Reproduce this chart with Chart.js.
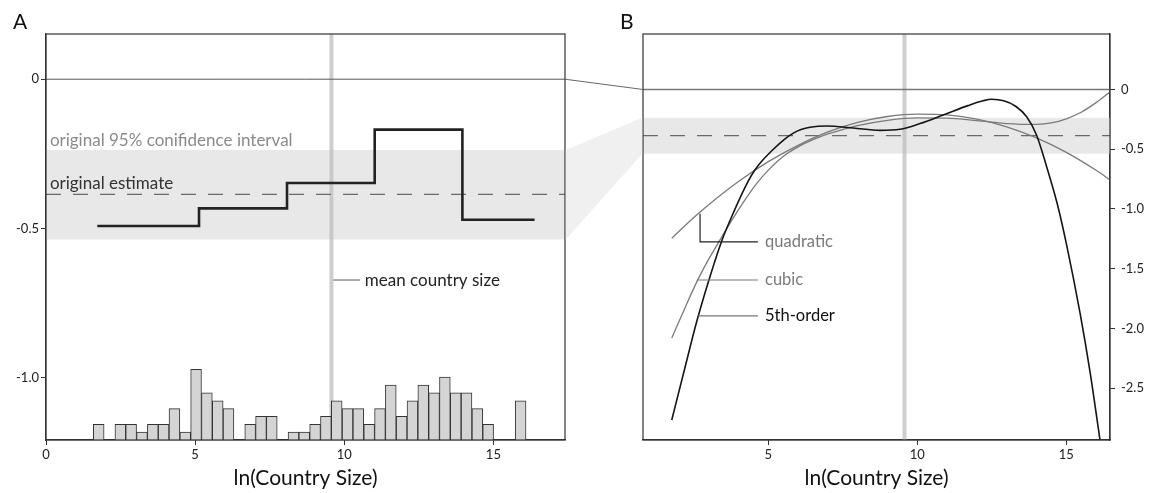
<!DOCTYPE html>
<html><head><meta charset="utf-8">
<script src="https://cdn.jsdelivr.net/npm/chart.js@4.4.1/dist/chart.umd.min.js"></script>
<style>
html,body{margin:0;padding:0;background:#fff;}
#wrap{position:relative;width:1151px;height:493px;overflow:hidden;}
#cA{position:absolute;left:0;top:0;width:600px;height:493px;}
#cB{position:absolute;left:600px;top:0;width:551px;height:493px;}
#ov{position:absolute;left:0;top:0;width:1151px;height:493px;pointer-events:none;}
</style></head><body>
<div id="wrap">
<canvas id="cA" width="600" height="493"></canvas>
<canvas id="cB" width="551" height="493"></canvas>
<canvas id="ov" width="1151" height="493"></canvas>
</div>
<script>
// ---------- data ----------
const binCenters = [1.767,2.130,2.492,2.855,3.218,3.581,3.943,4.306,4.669,5.031,5.394,5.757,6.119,6.482,6.845,7.208,7.570,7.933,8.296,8.658,9.021,9.384,9.746,10.109,10.472,10.835,11.197,11.560,11.923,12.285,12.648,13.011,13.373,13.736,14.099,14.462,14.824,15.187,15.550,15.912];
const binCounts  = [2,0,2,2,1,2,2,4,1,9,6,5,4,0,2,3,3,0,1,1,2,3,5,4,4,2,4,7,3,5,7,6,8,6,6,4,2,0,0,5];

const stepX = [1.72,5.13,8.08,11.02,13.96,16.38];
const stepY = [-0.492,-0.433,-0.348,-0.169,-0.471,-0.471];

const origEstimate = -0.386;
const ciLow = -0.537;
const ciHigh = -0.237;
const meanSize = 9.57;

const quadX = [1.76,2.5,3,4,5,6,7,8,9,10,11,12,13,14,15,16,16.47];
const quadY = [-1.245,-1.072,-0.964,-0.770,-0.604,-0.467,-0.355,-0.275,-0.226,-0.206,-0.213,-0.248,-0.312,-0.405,-0.526,-0.676,-0.757];

const cubicX = [1.76,2.2,2.6,3.0,3.4,3.8,4.2,4.6,5.0,5.5,6.0,6.5,7.0,7.5,8.0,9.0,10.0,11.0,12.0,13.0,14.0,14.5,15.0,15.5,16.0,16.47];
const cubicY = [-2.08,-1.83,-1.61,-1.42,-1.25,-1.085,-0.93,-0.79,-0.675,-0.56,-0.48,-0.42,-0.372,-0.335,-0.302,-0.258,-0.238,-0.24,-0.26,-0.285,-0.292,-0.28,-0.245,-0.19,-0.11,-0.02];

const fifthX = [1.76,2.2,2.6,3.0,3.44,3.83,4.33,4.55,4.8,5.17,5.5,5.84,6.1,6.4,6.96,7.85,8.75,9.42,10.09,10.87,11.7,12.2,12.5,12.9,13.3,13.67,14.0,14.34,14.7,15.01,15.46,15.8,16.13];
const fifthY = [-2.766,-2.33,-1.94,-1.60,-1.265,-1.03,-0.765,-0.674,-0.595,-0.50,-0.425,-0.365,-0.335,-0.316,-0.305,-0.322,-0.342,-0.333,-0.285,-0.213,-0.135,-0.095,-0.082,-0.095,-0.14,-0.228,-0.381,-0.646,-0.96,-1.30,-1.87,-2.37,-2.933];

const xTicksA = [0,5,10,15];
const yTicksA = [0,-0.5,-1.0];
const xTicksB = [5,10,15];
const yTicksB = [0,-0.5,-1.0,-1.5,-2.0,-2.5];

// ---------- helpers ----------
const FONT = "Lato, 'Noto Sans', sans-serif";
Chart.defaults.font.family = FONT;
Chart.defaults.color = '#222';
const pts = (xs, ys) => xs.map((x,i)=>({x, y: ys[i]}));
const fixedTicks = vals => s => { s.ticks = vals.map(v=>({value:v})); };
const fmt = v => v === 0 ? '0' : v.toFixed(1);

function hline(ctx, x1, y1, x2, y2){ ctx.beginPath(); ctx.moveTo(x1,y1); ctx.lineTo(x2,y2); ctx.stroke(); }
function text(ctx, s, x, y, color, size, base){
  ctx.save(); ctx.font = size + 'px ' + FONT; ctx.fillStyle = color;
  ctx.textAlign = 'left'; ctx.textBaseline = base || 'middle'; ctx.fillText(s, x, y); ctx.restore();
}

function refPlugin(zeroColor, zeroWidth, drawTexts){
  return {
    id: 'refs',
    beforeDatasetsDraw(chart){
      const {ctx, chartArea:a, scales} = chart; const x = scales.x, y = scales.y;
      ctx.save();
      const yt = y.getPixelForValue(ciHigh), yb = y.getPixelForValue(ciLow);
      ctx.fillStyle = '#e8e8e8'; ctx.fillRect(a.left, yt, a.right - a.left, yb - yt);
      const mx = x.getPixelForValue(meanSize);
      ctx.strokeStyle = 'rgba(190,190,190,0.75)'; ctx.lineWidth = 4; hline(ctx, mx, a.top, mx, a.bottom);
      const y0 = y.getPixelForValue(0);
      ctx.strokeStyle = zeroColor; ctx.lineWidth = zeroWidth; hline(ctx, a.left, y0, a.right, y0);
      const ye = y.getPixelForValue(origEstimate);
      ctx.setLineDash([15,12]); ctx.strokeStyle = '#6a6a6a'; ctx.lineWidth = 1.2; hline(ctx, a.left, ye, a.right, ye);
      ctx.restore();
    },
    afterDraw(chart){
      const {ctx, chartArea:a} = chart;
      ctx.save(); ctx.strokeStyle = '#333'; ctx.lineWidth = 1.2;
      ctx.strokeRect(a.left, a.top, a.right - a.left, a.bottom - a.top); ctx.restore();
      drawTexts(chart);
    }
  };
}

const tickFont = { size: 13 };
const gridCommon = { offset: false, drawOnChartArea: false, drawTicks: true, tickLength: 5, color: '#333' };
const borderCommon = { color: '#333', width: 1.2 };
const xTitle = { display: true, text: 'ln(Country Size)', font: { size: 21 }, color: '#111', padding: { top: 0, bottom: 2 } };

// ---------- Panel A ----------
const histData = binCenters.map((c,i)=>({x:c, y:binCounts[i]})).filter(p => p.y > 0);

const chartA = new Chart(document.getElementById('cA'), {
  type: 'line',
  data: { datasets: [
    { type: 'line', data: pts(stepX, stepY), stepped: true, borderColor: '#222', borderWidth: 2.6,
      pointRadius: 0, fill: false, yAxisID: 'y', borderJoinStyle: 'miter' },
    { type: 'bar', data: histData, yAxisID: 'yh', backgroundColor: '#d4d4d4', borderColor: '#333',
      borderWidth: 1, barPercentage: 1, categoryPercentage: 1 }
  ]},
  options: {
    responsive: false, animation: false, events: [],
    layout: { padding: { left: 0, right: 35, top: 34, bottom: 0 } },
    plugins: { legend: { display: false }, tooltip: { enabled: false } },
    scales: {
      x: { type: 'linear', offset: false, min: 0, max: 17.4, afterBuildTicks: fixedTicks(xTicksA),
           ticks: { font: tickFont, color: '#222', padding: 2, maxRotation: 0, autoSkip: false, callback: v => String(v) },
           grid: gridCommon, border: borderCommon,
           title: xTitle, afterFit: s => { s.height = 53; } },
      y: { type: 'linear', position: 'left', min: -1.2091, max: 0.1515, afterBuildTicks: fixedTicks(yTicksA),
           ticks: { font: tickFont, color: '#222', padding: 2, autoSkip: false, callback: fmt },
           grid: gridCommon, border: borderCommon, afterFit: s => { s.width = 46; } },
      yh: { type: 'linear', display: false, min: 0, max: 51.7 }
    }
  },
  plugins: [refPlugin('#555', 1, chart => {
    const {ctx, chartArea:a, scales:{x, y}} = chart;
    text(ctx, 'original 95% conifidence interval', x.getPixelForValue(0.13), y.getPixelForValue(-0.204), '#8a8a8a', 17);
    text(ctx, 'original estimate', x.getPixelForValue(0.13), y.getPixelForValue(-0.351), '#333', 17);
    const ly = y.getPixelForValue(-0.673);
    ctx.save(); ctx.strokeStyle = '#555'; ctx.lineWidth = 1;
    hline(ctx, x.getPixelForValue(meanSize) + 2, ly, x.getPixelForValue(10.53), ly); ctx.restore();
    text(ctx, 'mean country size', x.getPixelForValue(10.69), ly, '#222', 17);
    text(ctx, 'A', a.left - 33, a.top - 5.5, '#111', 21, 'alphabetic');
  })]
});

// ---------- Panel B ----------
const chartB = new Chart(document.getElementById('cB'), {
  type: 'line',
  data: { datasets: [
    { data: pts(fifthX, fifthY), borderColor: '#151515', borderWidth: 1.6, pointRadius: 0, cubicInterpolationMode: 'monotone', fill: false },
    { data: pts(quadX, quadY), borderColor: '#7a7a7a', borderWidth: 1.3, pointRadius: 0, cubicInterpolationMode: 'monotone', fill: false },
    { data: pts(cubicX, cubicY), borderColor: '#7a7a7a', borderWidth: 1.3, pointRadius: 0, cubicInterpolationMode: 'monotone', fill: false }
  ]},
  options: {
    responsive: false, animation: false, events: [],
    layout: { padding: { left: 43, right: 0, top: 34, bottom: 0 } },
    plugins: { legend: { display: false }, tooltip: { enabled: false } },
    scales: {
      x: { type: 'linear', offset: false, min: 0.795, max: 16.466, afterBuildTicks: fixedTicks(xTicksB),
           ticks: { font: tickFont, color: '#222', padding: 2, maxRotation: 0, autoSkip: false, callback: v => String(v) },
           grid: gridCommon, border: borderCommon,
           title: xTitle, afterFit: s => { s.height = 53; } },
      y: { type: 'linear', position: 'right', min: -2.9331, max: 0.4644, afterBuildTicks: fixedTicks(yTicksB),
           ticks: { font: tickFont, color: '#222', padding: 6, autoSkip: false, callback: fmt },
           grid: gridCommon, border: borderCommon, afterFit: s => { s.width = 41; } }
    }
  },
  plugins: [refPlugin('#777', 1.4, chart => {
    const {ctx, chartArea:a, scales:{x, y}} = chart;
    const lx = x.getPixelForValue(4.65), tx = x.getPixelForValue(4.89);
    ctx.save(); ctx.lineWidth = 1.2;
    const qx = x.getPixelForValue(2.71), qy = y.getPixelForValue(-1.04), qly = y.getPixelForValue(-1.275);
    ctx.strokeStyle = '#222';
    ctx.beginPath(); ctx.moveTo(qx, qy); ctx.lineTo(qx, qly); ctx.lineTo(lx, qly); ctx.stroke();
    const cly = y.getPixelForValue(-1.594);
    ctx.strokeStyle = '#777'; hline(ctx, x.getPixelForValue(2.60), cly, lx, cly);
    const fly = y.getPixelForValue(-1.895);
    hline(ctx, x.getPixelForValue(2.65), fly, lx, fly);
    ctx.restore();
    text(ctx, 'quadratic', tx, qly, '#7a7a7a', 16.5);
    text(ctx, 'cubic', tx, cly, '#7a7a7a', 16.5);
    text(ctx, '5th-order', tx, fly, '#111', 16.5);
    text(ctx, 'B', a.left - 23, a.top - 5.5, '#111', 21, 'alphabetic');
  })]
});

// ---------- connector between panels ----------
(function(){
  const ov = document.getElementById('ov').getContext('2d');
  const offB = 600;
  const aA = chartA.chartArea, aB = chartB.chartArea;
  const yA = v => chartA.scales.y.getPixelForValue(v);
  const yB = v => chartB.scales.y.getPixelForValue(v);
  const xL = aA.right + 0.8, xR = offB + aB.left - 0.8;
  ov.fillStyle = '#f0f0f0';
  ov.beginPath();
  ov.moveTo(xL, yA(ciHigh)); ov.lineTo(xR, yB(ciHigh)); ov.lineTo(xR, yB(ciLow)); ov.lineTo(xL, yA(ciLow));
  ov.closePath(); ov.fill();
  ov.strokeStyle = '#666'; ov.lineWidth = 1;
  ov.beginPath(); ov.moveTo(aA.right, yA(0)); ov.lineTo(offB + aB.left, yB(0)); ov.stroke();
})();
</script>
</body></html>
